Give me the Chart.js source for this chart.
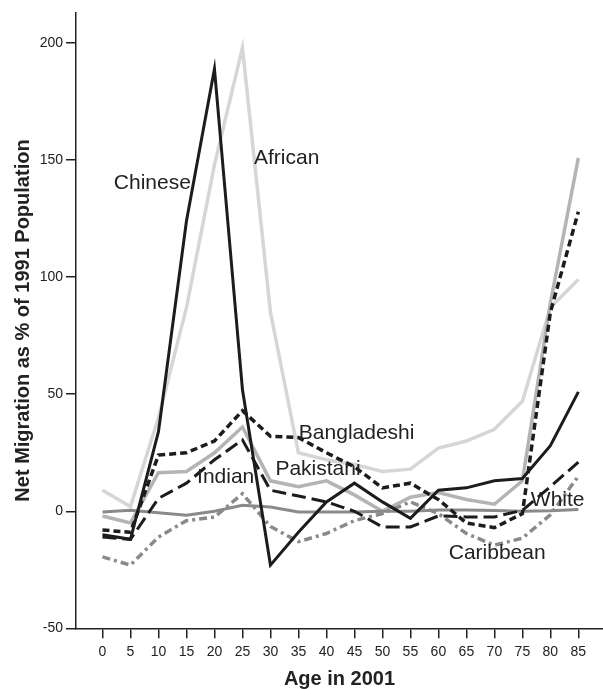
<!DOCTYPE html>
<html>
<head>
<meta charset="utf-8">
<title>Net Migration as % of 1991 Population</title>
<script src="https://cdn.jsdelivr.net/npm/chart.js@4.4.1/dist/chart.umd.min.js"></script>
<style>
    html, body { margin: 0; padding: 0; background: #fff; }
    #chart-wrap { position: relative; width: 603px; height: 689px; }
</style>
</head>
<body>
<div id="chart-wrap"><canvas id="migration-canvas"></canvas></div>
<script>
    // age groups in 2001 (x axis)
    var ages = [0, 5, 10, 15, 20, 25, 30, 35, 40, 45, 50, 55, 60, 65, 70, 75, 80, 85];
    var yTicks = [-50, 0, 50, 100, 150, 200];

    // net migration as % of 1991 population
    var chinese     = [-10, -12, 34, 124, 189, 52, -23, -9, 4, 12, 4, -3, 9, 10, 13, 14, 28, 51];
    var african     = [9, 2, 40, 87, 148, 198, 85, 25, 22, 20, 17, 18, 27, 30, 35, 47, 87, 99];
    var bangladeshi = [-8, -9, 24, 25, 30, 43, 32, 31.5, 25, 19, 10, 12, 5, -5, -7, -1, 85, 128];
    var pakistani   = [-2, -5, 16.5, 17, 25, 36, 13, 10.5, 13, 7, 0, 6, 8, 5, 3, 13, 89, 151];
    var indian      = [-11, -12, 5.5, 12, 22, 30.5, 9, 6.5, 4, 0, -6.7, -6.7, -2, -2.4, -2.4, 0.4, 10.5, 21];
    var white       = [-0.3, 0.4, -0.6, -1.7, 0, 2.6, 1.8, -0.3, -0.3, -0.3, 0, 0, 0.5, 0.5, 0.3, 0, 0.2, 0.8];
    var caribbean   = [-19.5, -23, -11, -4, -2.5, 7.5, -6.5, -13, -9.5, -4, -1, 4, -1, -9.5, -14.5, -11.5, -1.5, 15];

    // text labels placed inside the plot (in data units)
    var labelNames  = ['Chinese', 'African', 'Bangladeshi', 'Pakistani', 'Indian', 'White', 'Caribbean'];
    var labelAges   = [8.9, 32.9, 45.4, 38.5, 22.0, 81.3, 70.5];
    var labelValues = [140, 151, 33.3, 17.9, 14.5, 4.7, -17.9];

    var FONT = "'Liberation Sans', Arial, Helvetica, sans-serif";
    var INK = '#222';

    function points(values){
        var out = [];
        for(var i = 0; i < ages.length; i++){
            out.push({x: ages[i], y: values[i]});
        }
        return out;
    }

    function line(name, values, color, width, dash){
        return {
            label: name,
            data: points(values),
            borderColor: color,
            borderWidth: width,
            borderDash: dash || [],
            borderJoinStyle: 'miter',
            borderCapStyle: 'butt',
            pointRadius: 0,
            tension: 0,
            fill: false
        };
    }

    // first dataset is painted last, so black Chinese goes on top
    var datasets = [
        line('Chinese', chinese, '#1c1c1c', 3),
        line('Bangladeshi', bangladeshi, '#1c1c1c', 3.5, [7, 4]),
        line('Indian', indian, '#1c1c1c', 3, [14, 6]),
        line('White', white, '#8a8a8a', 3),
        line('Caribbean', caribbean, '#8a8a8a', 3.5, [8, 4, 3, 4]),
        line('Pakistani', pakistani, '#b4b4b4', 3.5),
        line('African', african, '#d6d6d6', 3.5)
    ];

    var seriesLabels = {
        id: 'seriesLabels',
        afterDatasetsDraw: function(chart){
            var ctx = chart.ctx;
            var sx = chart.scales.x, sy = chart.scales.y;
            ctx.save();
            ctx.font = '21px ' + FONT;
            ctx.fillStyle = INK;
            ctx.textAlign = 'center';
            ctx.textBaseline = 'middle';
            for(var i = 0; i < labelNames.length; i++){
                ctx.fillText(labelNames[i], sx.getPixelForValue(labelAges[i]), sy.getPixelForValue(labelValues[i]));
            }
            ctx.restore();
        }
    };

    Chart.defaults.font.family = FONT;
    Chart.defaults.color = INK;

    new Chart(document.getElementById('migration-canvas').getContext('2d'), {
        type: 'line',
        data: {datasets: datasets},
        plugins: [seriesLabels],
        options: {
            responsive: true,
            maintainAspectRatio: false,
            animation: false,
            layout: {padding: {top: 12.7, right: 0, bottom: 0, left: 0}},
            plugins: {
                legend: {display: false},
                tooltip: {enabled: false}
            },
            scales: {
                x: {
                    type: 'linear',
                    min: -4.73,
                    max: 89.4,
                    afterBuildTicks: function(scale){
                        scale.ticks = ages.map(function(a){ return {value: a}; });
                    },
                    afterFit: function(scale){ scale.height = 60.7; },
                    grid: {drawOnChartArea: false, drawTicks: true, tickLength: 10, color: INK, lineWidth: 1.5},
                    border: {display: true, color: INK, width: 1.5},
                    ticks: {padding: 5, color: INK, font: {size: 14}, maxRotation: 0, autoSkip: false},
                    title: {
                        display: true,
                        text: 'Age in 2001',
                        color: INK,
                        font: {size: 20, weight: 'bold', lineHeight: 1},
                        padding: {top: 0, bottom: 0}
                    }
                },
                y: {
                    min: -50,
                    max: 213,
                    afterBuildTicks: function(scale){
                        scale.ticks = yTicks.map(function(v){ return {value: v}; });
                    },
                    afterFit: function(scale){ scale.width = 76; },
                    grid: {drawOnChartArea: false, drawTicks: true, tickLength: 10, color: INK, lineWidth: 1.5},
                    border: {display: true, color: INK, width: 1.5},
                    ticks: {padding: 3, color: INK, font: {size: 14}},
                    title: {
                        display: true,
                        text: 'Net Migration as % of 1991 Population',
                        color: INK,
                        font: {size: 20, weight: 'bold', lineHeight: 1.2},
                        padding: {top: 11, bottom: 0}
                    }
                }
            }
        }
    });
</script>
</body>
</html>
